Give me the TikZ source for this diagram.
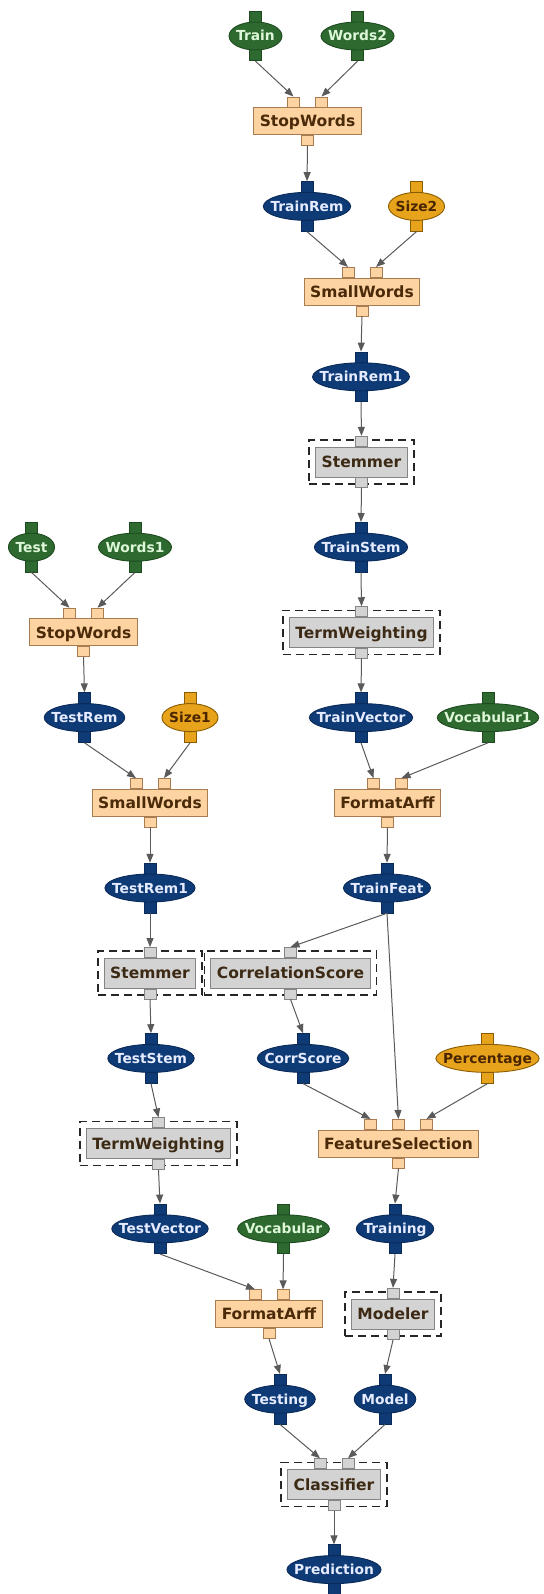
\documentclass[tikz,border=0pt]{standalone}
\usepackage{fontspec}
\setmainfont{DejaVu Sans}
\usetikzlibrary{shapes.geometric,calc,fit,arrows.meta}
\pgfdeclarelayer{background}
\pgfsetlayers{background,main}

\definecolor{bluefill}{HTML}{0E3A76}
\definecolor{blueline}{HTML}{0A2A58}
\definecolor{bluetxt}{HTML}{E6ECFF}
\definecolor{greenfill}{HTML}{2E6A30}
\definecolor{greenline}{HTML}{1D4A1F}
\definecolor{greentxt}{HTML}{DDF7D8}
\definecolor{goldfill}{HTML}{E8A31C}
\definecolor{goldline}{HTML}{8A5C00}
\definecolor{goldtxt}{HTML}{4A2600}
\definecolor{peach}{HTML}{FDD3A2}
\definecolor{peachline}{HTML}{A87B50}
\definecolor{boxtxt}{HTML}{4A2A08}
\definecolor{grayfill}{HTML}{D3D3D3}
\definecolor{grayline}{HTML}{858585}
\definecolor{graytxt}{HTML}{3C2A14}
\definecolor{wirecol}{HTML}{5A5A5A}

\tikzset{
 dlabel/.style={rectangle, inner xsep=7pt, inner ysep=0pt, font=\fontsize{13.8}{14}\selectfont\bfseries, text height=10pt, text depth=0pt},
 dshape/.style={ellipse, inner sep=0pt, minimum height=28pt, line width=0.9pt},
 dport/.style={rectangle, inner sep=0pt, minimum width=12pt, minimum height=15pt, line width=0.7pt},
 pbox/.style={rectangle, draw=peachline, fill=peach, line width=0.9pt, inner xsep=6pt, inner ysep=0pt, minimum height=27pt, text=boxtxt, font=\fontsize{15.5}{16}\selectfont\bfseries, text height=11.3pt, text depth=0pt},
 gbox/.style={pbox, draw=grayline, fill=grayfill, text=graytxt, minimum height=30pt},
 pport/.style={rectangle, draw=peachline, fill=peach, line width=0.7pt, inner sep=0pt, minimum width=12pt, minimum height=10pt},
 gport/.style={pport, draw=grayline, fill=grayfill},
 dashframe/.style={draw=black!85, dash pattern=on 8pt off 5pt, line width=1.6pt, inner xsep=6pt, inner ysep=6.5pt},
 wire/.style={draw=wirecol, line width=1pt, -{Triangle[length=9pt,width=7pt]}},
}

% data (ellipse) node: name, kind, x, y, text
\newcommand\datanode[5]{%
  \node[dlabel, text=#2txt] (#1) at (#3,#4) {#5};
  \begin{pgfonlayer}{background}
    \node[dport, fill=#2fill, draw=#2line, anchor=south] (#1-in) at ([yshift=9.5pt]#1.center) {};
    \node[dport, fill=#2fill, draw=#2line, anchor=north] (#1-out) at ([yshift=-9.5pt]#1.center) {};
    \path let \p1=($(#1.east)-(#1.west)$) in
      node[dshape, fill=#2fill, draw=#2line, minimum width=\x1] (#1-e) at (#1.center) {};
  \end{pgfonlayer}
}
% orange process box: name, x, y, text
\newcommand\obox[4]{%
  \node[pbox] (#1) at (#2,#3) {#4};
  \node[pport, anchor=north] (#1-out) at (#1.south) {};
}
% gray process box with dashed frame: name, x, y, text
\newcommand\gproc[4]{%
  \node[gbox] (#1) at (#2,#3) {#4};
  \node[dashframe, fit=(#1)] (#1-d) {};
  \node[gport, anchor=north] (#1-out) at (#1.south) {};
}
% input port: box, port name, x offset, style
\newcommand\pin[4]{%
  \node[#4, anchor=south] (#1-#2) at ([xshift=#3pt]#1.north) {};
}

\begin{document}
\begin{tikzpicture}[x=1pt,y=-1pt]
\useasboundingbox (0,0) rectangle (543,1594);

% ---------- right branch ----------
\datanode{train}{green}{255.5}{36}{Train}
\datanode{words2}{green}{357.5}{36}{Words2}
\obox{swR}{307.5}{121.2}{StopWords}
\pin{swR}{i1}{-14}{pport}\pin{swR}{i2}{14}{pport}

\datanode{trainrem}{blue}{307}{206.4}{TrainRem}
\datanode{size2}{gold}{416.5}{206.4}{Size2}
\obox{smR}{362}{291.6}{SmallWords}
\pin{smR}{i1}{-14}{pport}\pin{smR}{i2}{14}{pport}

\datanode{trainrem1}{blue}{361}{376.8}{TrainRem1}
\gproc{stemR}{361.5}{462}{Stemmer}
\pin{stemR}{i1}{0}{gport}

\datanode{trainstem}{blue}{361}{547.2}{TrainStem}
\gproc{twR}{361.5}{632.4}{TermWeighting}
\pin{twR}{i1}{0}{gport}

\datanode{trainvector}{blue}{361}{717.6}{TrainVector}
\datanode{vocab1}{green}{488}{717.6}{Vocabular1}
\obox{faR}{387.5}{802.8}{FormatArff}
\pin{faR}{i1}{-14}{pport}\pin{faR}{i2}{14}{pport}

\datanode{trainfeat}{blue}{387}{888}{TrainFeat}
\gproc{corr}{290.5}{973.2}{CorrelationScore}
\pin{corr}{i1}{0}{gport}

\datanode{corrscore}{blue}{303}{1058.4}{CorrScore}
\datanode{percent}{gold}{487.5}{1058.4}{Percentage}
\obox{fs}{398.5}{1143.6}{FeatureSelection}
\pin{fs}{i1}{-28}{pport}\pin{fs}{i2}{0}{pport}\pin{fs}{i3}{28}{pport}

\datanode{training}{blue}{395}{1228.8}{Training}
\gproc{modeler}{393}{1314}{Modeler}
\pin{modeler}{i1}{0}{gport}

\datanode{model}{blue}{385}{1399.2}{Model}
\gproc{classif}{334}{1484.4}{Classifier}
\pin{classif}{i1}{-14}{gport}\pin{classif}{i2}{14}{gport}

\datanode{prediction}{blue}{334}{1569.6}{Prediction}

% ---------- left branch ----------
\datanode{test}{green}{31.5}{547.2}{Test}
\datanode{words1}{green}{135}{547.2}{Words1}
\obox{swL}{83.5}{632.4}{StopWords}
\pin{swL}{i1}{-14}{pport}\pin{swL}{i2}{14}{pport}

\datanode{testrem}{blue}{84.5}{717.6}{TestRem}
\datanode{size1}{gold}{190}{717.6}{Size1}
\obox{smL}{150}{802.8}{SmallWords}
\pin{smL}{i1}{-14}{pport}\pin{smL}{i2}{14}{pport}

\datanode{testrem1}{blue}{150}{888}{TestRem1}
\gproc{stemL}{150}{973.2}{Stemmer}
\pin{stemL}{i1}{0}{gport}

\datanode{teststem}{blue}{151}{1058.4}{TestStem}
\gproc{twL}{158.5}{1143.6}{TermWeighting}
\pin{twL}{i1}{0}{gport}

\datanode{testvector}{blue}{160}{1228.8}{TestVector}
\datanode{vocab}{green}{283.5}{1228.8}{Vocabular}
\obox{faL}{269}{1314}{FormatArff}
\pin{faL}{i1}{-14}{pport}\pin{faL}{i2}{14}{pport}

\datanode{testing}{blue}{280}{1399.2}{Testing}

% ---------- connectors ----------
\draw[wire] (train-out.south) -- (swR-i1.north);
\draw[wire] (words2-out.south) -- (swR-i2.north);
\draw[wire] (swR-out.south) -- (trainrem-in.north);
\draw[wire] (trainrem-out.south) -- (smR-i1.north);
\draw[wire] (size2-out.south) -- (smR-i2.north);
\draw[wire] (smR-out.south) -- (trainrem1-in.north);
\draw[wire] (trainrem1-out.south) -- (stemR-i1.north);
\draw[wire] (stemR-out.south) -- (trainstem-in.north);
\draw[wire] (trainstem-out.south) -- (twR-i1.north);
\draw[wire] (twR-out.south) -- (trainvector-in.north);
\draw[wire] (trainvector-out.south) -- (faR-i1.north);
\draw[wire] (vocab1-out.south) -- (faR-i2.north);
\draw[wire] (faR-out.south) -- (trainfeat-in.north);
\draw[wire] (trainfeat-out.south) -- (corr-i1.north);
\draw[wire] (trainfeat-out.south) -- (fs-i2.north);
\draw[wire] (corr-out.south) -- (corrscore-in.north);
\draw[wire] (corrscore-out.south) -- (fs-i1.north);
\draw[wire] (percent-out.south) -- (fs-i3.north);
\draw[wire] (fs-out.south) -- (training-in.north);
\draw[wire] (training-out.south) -- (modeler-i1.north);
\draw[wire] (modeler-out.south) -- (model-in.north);
\draw[wire] (model-out.south) -- (classif-i2.north);
\draw[wire] (testing-out.south) -- (classif-i1.north);
\draw[wire] (classif-out.south) -- (prediction-in.north);

\draw[wire] (test-out.south) -- (swL-i1.north);
\draw[wire] (words1-out.south) -- (swL-i2.north);
\draw[wire] (swL-out.south) -- (testrem-in.north);
\draw[wire] (testrem-out.south) -- (smL-i1.north);
\draw[wire] (size1-out.south) -- (smL-i2.north);
\draw[wire] (smL-out.south) -- (testrem1-in.north);
\draw[wire] (testrem1-out.south) -- (stemL-i1.north);
\draw[wire] (stemL-out.south) -- (teststem-in.north);
\draw[wire] (teststem-out.south) -- (twL-i1.north);
\draw[wire] (twL-out.south) -- (testvector-in.north);
\draw[wire] (testvector-out.south) -- (faL-i1.north);
\draw[wire] (vocab-out.south) -- (faL-i2.north);
\draw[wire] (faL-out.south) -- (testing-in.north);
\end{tikzpicture}
\end{document}
